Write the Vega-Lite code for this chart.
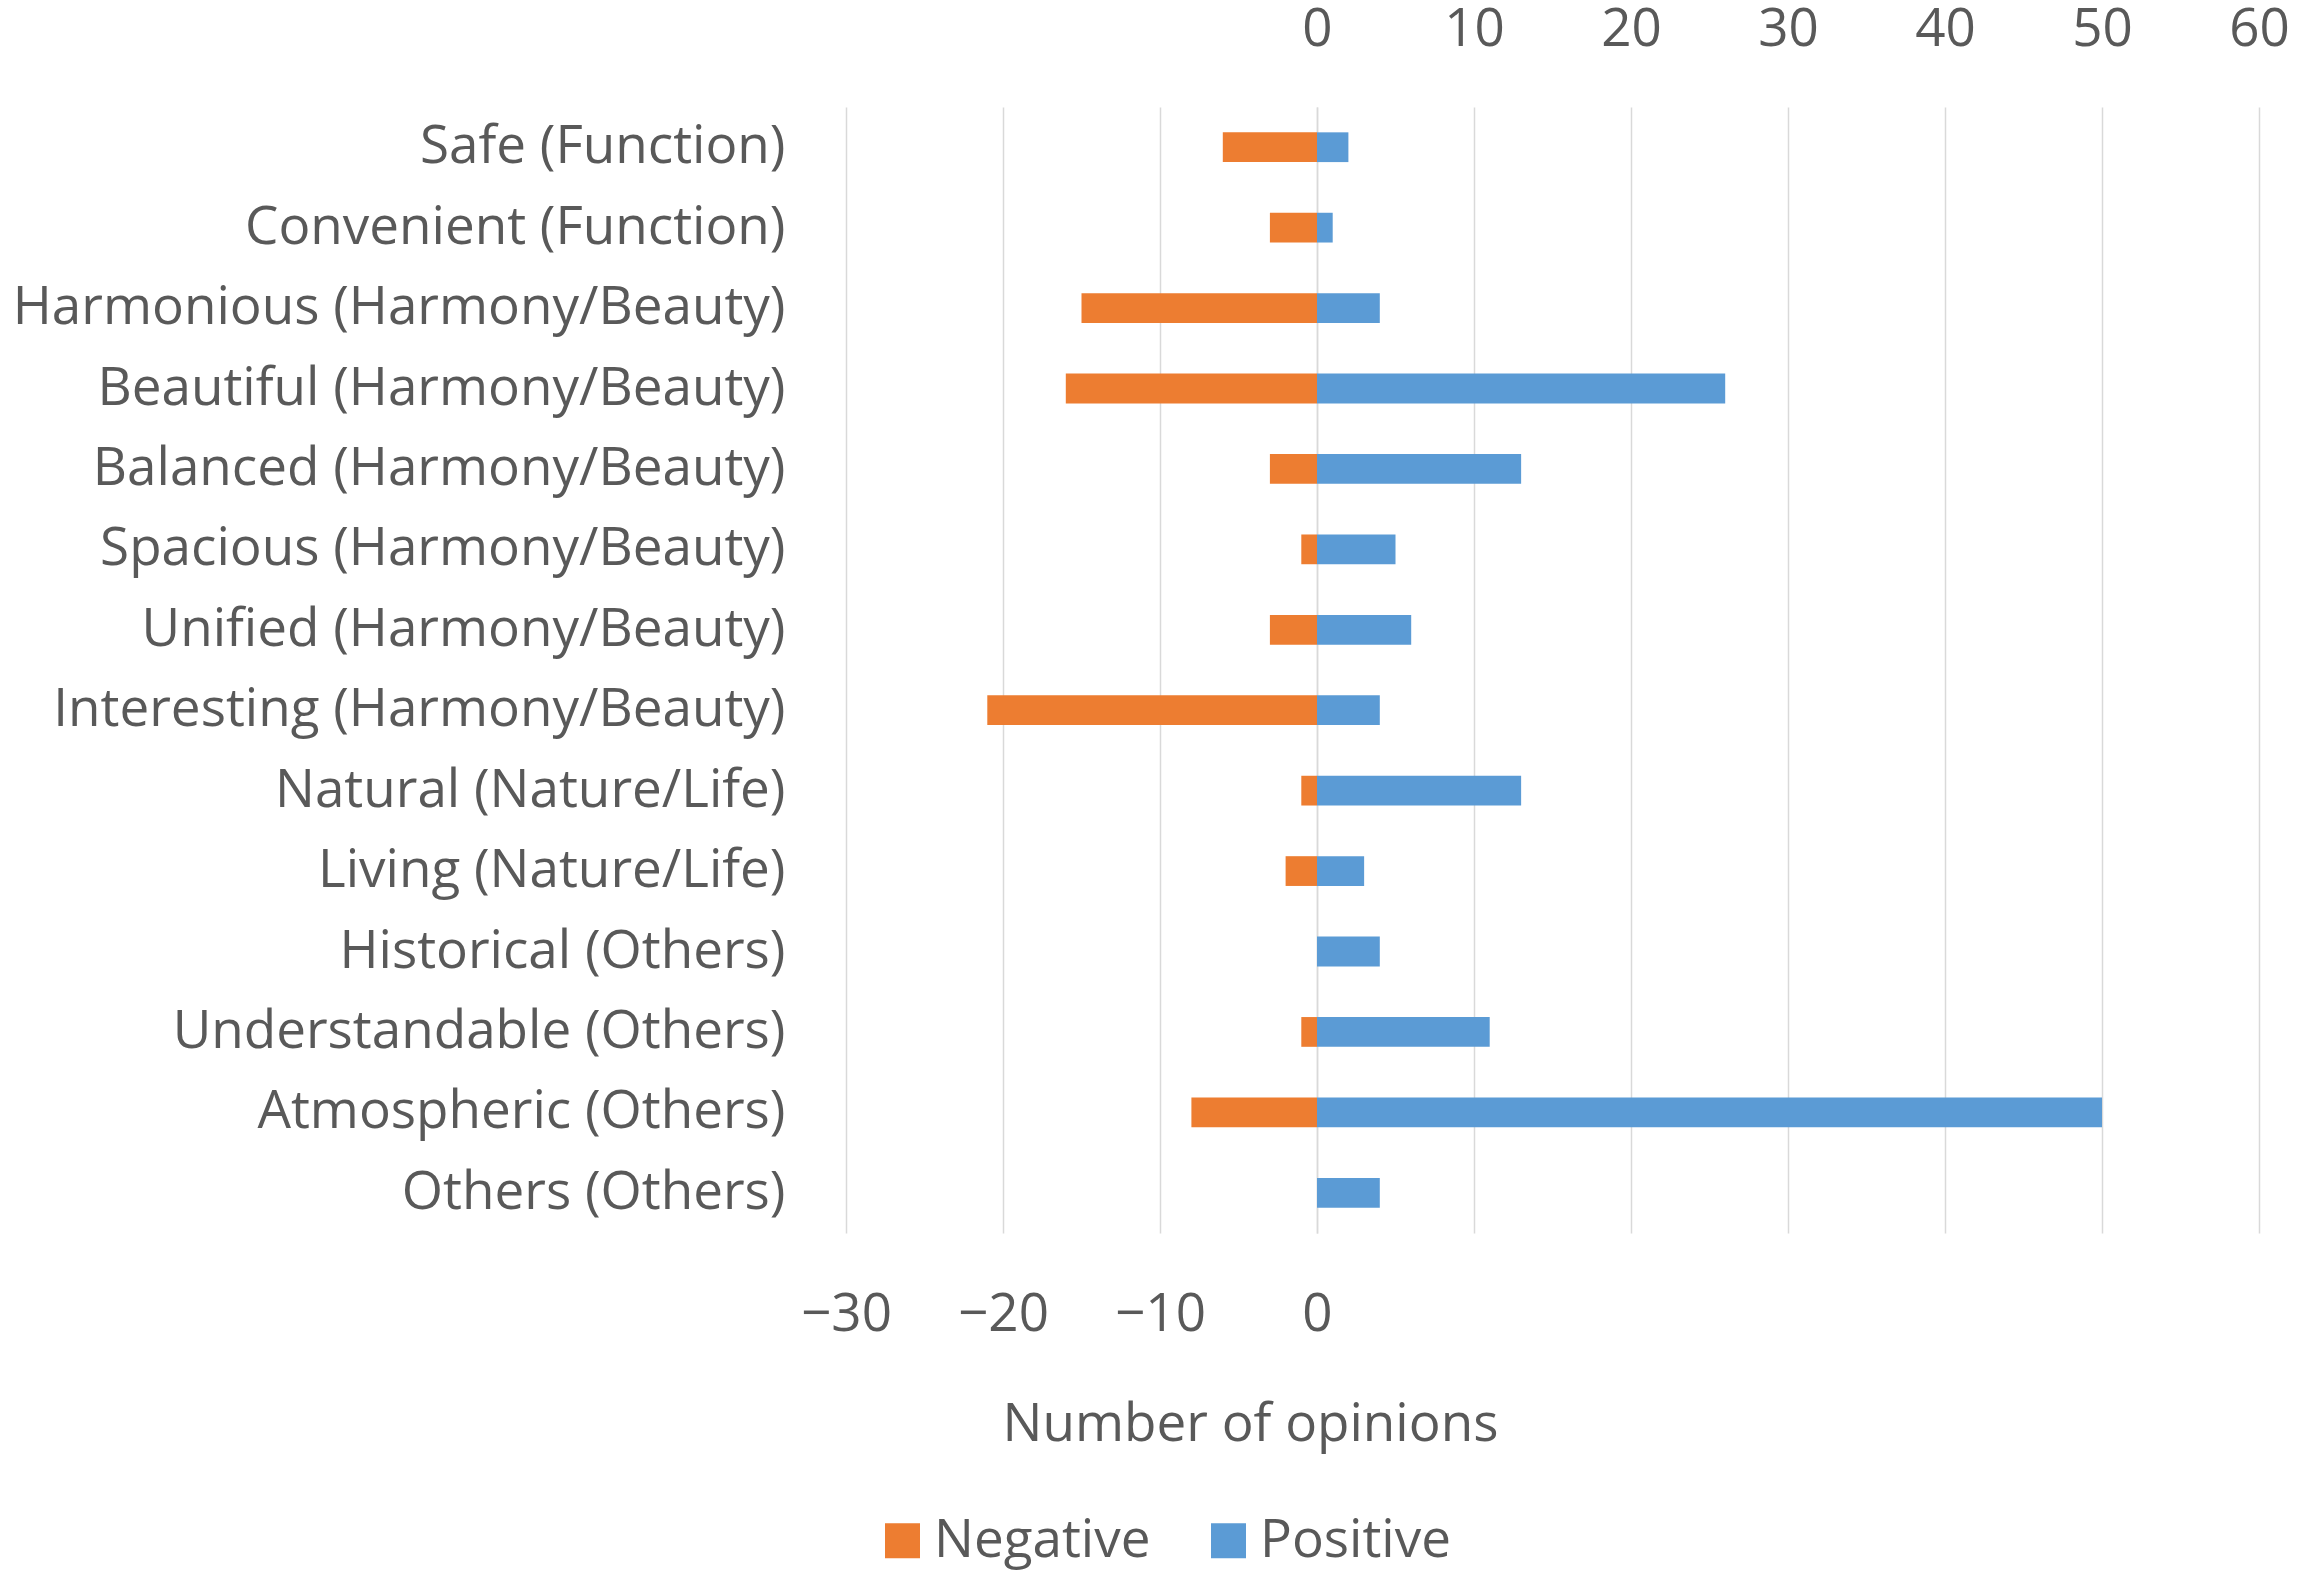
{
  "$schema": "https://vega.github.io/schema/vega-lite/v6.json",
  "autosize": {"type": "none"},
  "width": 1413,
  "height": 1126,
  "padding": {"left": 846, "top": 107, "right": 44, "bottom": 341},
  "background": "white",
  "config": {
    "view": {"stroke": null},
    "font": "Open Sans",
    "axis": {"labelColor": "#595959", "titleColor": "#595959", "labelFontSize": 53, "titleFontSize": 53, "titleFontWeight": "normal", "labelFont": "Open Sans", "titleFont": "Open Sans", "labelFlush": false, "labelOverlap": false, "labelBound": false},
    "legend": {"labelColor": "#595959", "labelFontSize": 53, "labelFont": "Open Sans", "labelLimit": 1000}
  },
  "data": {
    "values": [
      {"category": "Safe (Function)", "type": "Negative", "value": -6},
      {"category": "Safe (Function)", "type": "Positive", "value": 2},
      {"category": "Convenient (Function)", "type": "Negative", "value": -3},
      {"category": "Convenient (Function)", "type": "Positive", "value": 1},
      {"category": "Harmonious (Harmony/Beauty)", "type": "Negative", "value": -15},
      {"category": "Harmonious (Harmony/Beauty)", "type": "Positive", "value": 4},
      {"category": "Beautiful (Harmony/Beauty)", "type": "Negative", "value": -16},
      {"category": "Beautiful (Harmony/Beauty)", "type": "Positive", "value": 26},
      {"category": "Balanced (Harmony/Beauty)", "type": "Negative", "value": -3},
      {"category": "Balanced (Harmony/Beauty)", "type": "Positive", "value": 13},
      {"category": "Spacious (Harmony/Beauty)", "type": "Negative", "value": -1},
      {"category": "Spacious (Harmony/Beauty)", "type": "Positive", "value": 5},
      {"category": "Unified (Harmony/Beauty)", "type": "Negative", "value": -3},
      {"category": "Unified (Harmony/Beauty)", "type": "Positive", "value": 6},
      {"category": "Interesting (Harmony/Beauty)", "type": "Negative", "value": -21},
      {"category": "Interesting (Harmony/Beauty)", "type": "Positive", "value": 4},
      {"category": "Natural (Nature/Life)", "type": "Negative", "value": -1},
      {"category": "Natural (Nature/Life)", "type": "Positive", "value": 13},
      {"category": "Living (Nature/Life)", "type": "Negative", "value": -2},
      {"category": "Living (Nature/Life)", "type": "Positive", "value": 3},
      {"category": "Historical (Others)", "type": "Negative", "value": 0},
      {"category": "Historical (Others)", "type": "Positive", "value": 4},
      {"category": "Understandable (Others)", "type": "Negative", "value": -1},
      {"category": "Understandable (Others)", "type": "Positive", "value": 11},
      {"category": "Atmospheric (Others)", "type": "Negative", "value": -8},
      {"category": "Atmospheric (Others)", "type": "Positive", "value": 50},
      {"category": "Others (Others)", "type": "Negative", "value": 0},
      {"category": "Others (Others)", "type": "Positive", "value": 4}
    ]
  },
  "encoding": {
    "y": {
      "field": "category",
      "type": "nominal",
      "sort": ["Safe (Function)", "Convenient (Function)", "Harmonious (Harmony/Beauty)", "Beautiful (Harmony/Beauty)", "Balanced (Harmony/Beauty)", "Spacious (Harmony/Beauty)", "Unified (Harmony/Beauty)", "Interesting (Harmony/Beauty)", "Natural (Nature/Life)", "Living (Nature/Life)", "Historical (Others)", "Understandable (Others)", "Atmospheric (Others)", "Others (Others)"],
      "scale": {"paddingInner": 0.63, "paddingOuter": 0.315},
      "axis": {"title": null, "ticks": false, "tickSize": 0, "domain": false, "labelPadding": 61, "labelLimit": 1000, "grid": false}
    },
    "color": {
      "field": "type",
      "type": "nominal",
      "scale": {"domain": ["Negative", "Positive"], "range": ["#ED7D31", "#5B9BD5"]},
      "legend": {
        "title": null,
        "orient": "none",
        "direction": "horizontal",
        "legendX": 30,
        "legendY": 1407,
        "symbolType": "square",
        "symbolSize": 1225,
        "symbolStrokeWidth": 0,
        "symbolOpacity": 1,
        "labelOffset": 5,
        "columnPadding": 51,
        "padding": 0
      }
    }
  },
  "layer": [
    {
      "transform": [{"filter": "datum.type === 'Negative'"}],
      "mark": {"type": "bar"},
      "encoding": {
        "x": {
          "field": "value",
          "type": "quantitative",
          "scale": {"domain": [-30, 60], "nice": false, "zero": false},
          "axis": {
            "orient": "bottom",
            "values": [-30, -20, -10, 0],
            "title": "Number of opinions",
            "titleX": 404,
            "titleY": 207,
            "titleAlign": "center",
            "titleBaseline": "alphabetic",
            "labelBaseline": "alphabetic",
            "labelPadding": 97,
            "ticks": false,
            "tickSize": 0,
            "domain": false,
            "grid": true,
            "gridColor": "#d9d9d9",
            "gridWidth": 1.5
          }
        }
      }
    },
    {
      "transform": [{"filter": "datum.type === 'Positive'"}],
      "mark": {"type": "bar"},
      "encoding": {
        "x": {
          "field": "value",
          "type": "quantitative",
          "scale": {"domain": [-30, 60], "nice": false, "zero": false},
          "axis": {
            "orient": "top",
            "values": [0, 10, 20, 30, 40, 50, 60],
            "title": null,
            "labelBaseline": "alphabetic",
            "labelPadding": 62,
            "ticks": false,
            "tickSize": 0,
            "domain": false,
            "grid": true,
            "gridColor": "#d9d9d9",
            "gridWidth": 1.5
          }
        }
      }
    }
  ],
  "resolve": {"axis": {"x": "independent"}}
}
